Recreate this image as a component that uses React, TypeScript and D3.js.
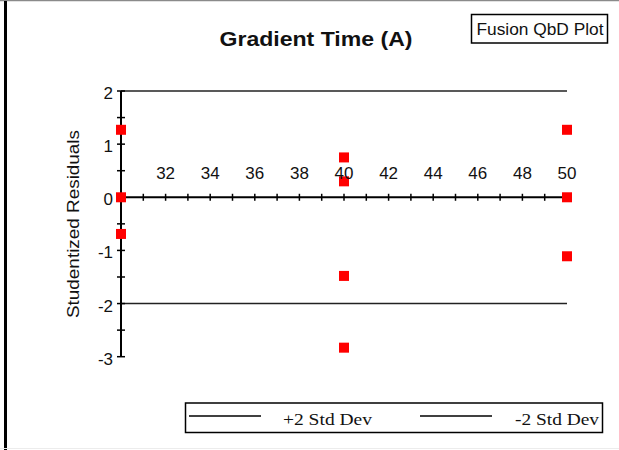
import React from "react";
import * as d3 from "d3";

const xTickLabels = [32, 34, 36, 38, 40, 42, 44, 46, 48, 50];
const yTickLabels = [2, 1, 0, -1, -2, -3];
const pointX = [30, 30, 30, 40, 40, 40, 40, 50, 50, 50];
const pointY = [1.27, 0, -0.69, 0.75, 0.3, -1.48, -2.83, 1.27, 0, -1.11];
const stdDevLines = [2, -2];
const legendLabels = ["+2 Std Dev", "-2 Std Dev"];

const W = 619;
const H = 450;

export default function App() {
  const x = d3.scaleLinear().domain([30, 50]).range([121, 567]);
  const y = d3.scaleLinear().domain([-3, 2]).range([356.7, 91]);
  const xMinor = d3.range(31, 51, 1);
  const yMinor = d3.range(-3, 2.01, 0.5);
  const sans = "Arial, 'Liberation Sans', sans-serif";
  const serif = "'Times New Roman', 'Liberation Serif', serif";

  return (
    <svg
      width={W}
      height={H}
      style={{ position: "absolute", left: 0, top: 0, background: "#fff" }}
    >
      <rect x={0} y={0} width={W} height={H} fill="#fff" />
      {/* frame */}
      <line x1={0} x2={W} y1={0.5} y2={0.5} stroke="#8a8a8a" strokeWidth={1.5} />
      <line x1={5.5} x2={5.5} y1={1} y2={H} stroke="#000" strokeWidth={3} />
      <line x1={0} x2={W} y1={448.5} y2={448.5} stroke="#ececec" strokeWidth={1} />

      {/* title */}
      <text
        x={316}
        y={46}
        textAnchor="middle"
        fontFamily={sans}
        fontWeight="bold"
        fontSize={21}
        textLength={193}
        lengthAdjust="spacingAndGlyphs"
        fill="#111"
      >
        Gradient Time (A)
      </text>

      {/* Fusion box */}
      <rect x={471.5} y={14.5} width={136} height={28.5} fill="#fff" stroke="#000" strokeWidth={1.5} />
      <text
        x={476.5}
        y={35}
        fontFamily={sans}
        fontSize={16}
        textLength={127}
        lengthAdjust="spacingAndGlyphs"
        fill="#111"
      >
        Fusion QbD Plot
      </text>

      {/* std dev lines */}
      {stdDevLines.map((v) => (
        <line
          key={v}
          x1={x(30)}
          x2={x(50)}
          y1={y(v)}
          y2={y(v)}
          stroke="#222"
          strokeWidth={1.6}
        />
      ))}

      {/* y axis */}
      <line x1={x(30)} x2={x(30)} y1={y(2)} y2={y(-3)} stroke="#000" strokeWidth={2} />
      {yMinor.map((v) => (
        <line
          key={"ym" + v}
          x1={x(30) - 4}
          x2={x(30) + 4}
          y1={y(v)}
          y2={y(v)}
          stroke="#000"
          strokeWidth={1.5}
        />
      ))}
      {yTickLabels.map((v) => (
        <text
          key={"yl" + v}
          x={113}
          y={y(v) + 8}
          textAnchor="end"
          fontFamily={sans}
          fontSize={17}
          fill="#111"
        >
          {v}
        </text>
      ))}

      {/* x axis */}
      <line x1={x(30)} x2={x(50)} y1={y(0)} y2={y(0)} stroke="#000" strokeWidth={2} />
      {xMinor.map((v) => (
        <line
          key={"xm" + v}
          x1={x(v)}
          x2={x(v)}
          y1={y(0) - 3.5}
          y2={y(0) + 3.5}
          stroke="#000"
          strokeWidth={1.5}
        />
      ))}

      {/* y title */}
      <text
        transform={`translate(79,224) rotate(-90)`}
        textAnchor="middle"
        fontFamily={sans}
        fontSize={17}
        textLength={188}
        lengthAdjust="spacingAndGlyphs"
        fill="#111"
      >
        Studentized Residuals
      </text>

      {/* points */}
      {pointX.map((px, i) => (
        <rect
          key={"p" + i}
          x={x(px) - 5}
          y={y(pointY[i]) - 5}
          width={10}
          height={10}
          fill="#ff0000"
        />
      ))}

      {/* x tick labels (drawn over points) */}
      {xTickLabels.map((v) => (
        <text
          key={"xl" + v}
          x={x(v)}
          y={179}
          textAnchor="middle"
          fontFamily={sans}
          fontSize={17}
          fill="#111"
        >
          {v}
        </text>
      ))}

      {/* legend */}
      <rect x={185.5} y={403} width={417} height={29.5} fill="#fff" stroke="#000" strokeWidth={1.5} />
      <line x1={189} x2={261} y1={416} y2={416} stroke="#000" strokeWidth={1.5} />
      <text
        x={283}
        y={425}
        fontFamily={serif}
        fontSize={16}
        textLength={89}
        lengthAdjust="spacingAndGlyphs"
        fill="#111"
      >
        {legendLabels[0]}
      </text>
      <line x1={420} x2={492} y1={416} y2={416} stroke="#000" strokeWidth={1.5} />
      <text
        x={515}
        y={425}
        fontFamily={serif}
        fontSize={16}
        textLength={84}
        lengthAdjust="spacingAndGlyphs"
        fill="#111"
      >
        {legendLabels[1]}
      </text>
    </svg>
  );
}
